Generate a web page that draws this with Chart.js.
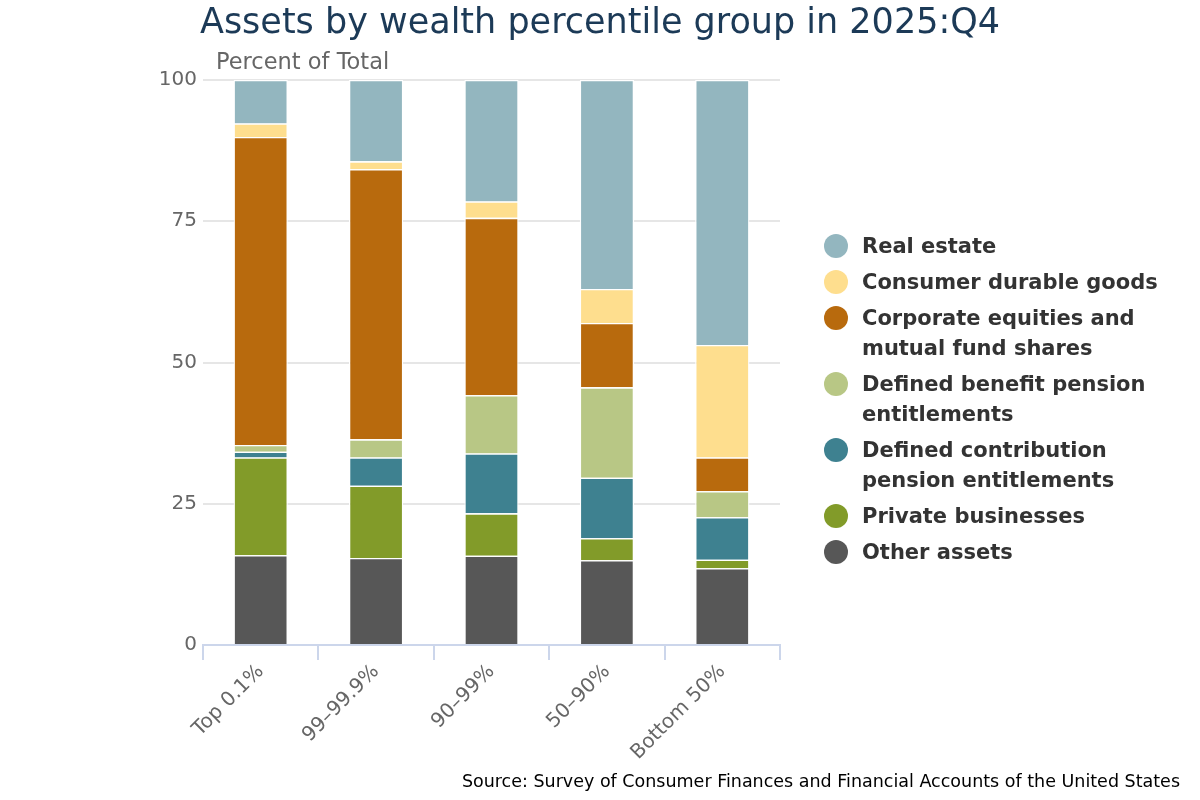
<!DOCTYPE html>
<html>
<head>
<meta charset="utf-8">
<script src="https://cdn.jsdelivr.net/npm/chart.js@4"></script>
<style>
  html, body { margin: 0; padding: 0; background: #fff; }
  #wrap { position: relative; width: 1200px; height: 800px; font-family: 'DejaVu Sans', sans-serif; }
  #title { position: absolute; left: 0; width: 1200px; top: 1px; text-align: center; font-size: 35px; color: #1c3a57; }
  #ylab { position: absolute; left: 216px; top: 48px; font-size: 22.5px; color: #666; }
  #source { position: absolute; right: 20px; top: 771px; font-size: 17.5px; color: #000; }
  #legend { position: absolute; left: 824px; top: 231px; }
  .item { display: flex; align-items: flex-start; margin-bottom: 6px; font-weight: bold; font-size: 21px; line-height: 30px; color: #333; }
  .dot { width: 24px; height: 24px; border-radius: 50%; margin: 3px 14px 0 0; flex: none; }
  canvas { position: absolute; left: 0; top: 0; }
</style>
</head>
<body>
<div id="wrap">
  <canvas id="chart" width="1200" height="800"></canvas>
  <div id="title">Assets by wealth percentile group in 2025:Q4</div>
  <div id="ylab">Percent of Total</div>
  <div id="legend"></div>
  <div id="source">Source: Survey of Consumer Finances and Financial Accounts of the United States</div>
</div>
<script>
// ─── DATA ────────────────────────────────────────────────────────────────────
const groups = ['Top 0.1%', '99–99.9%', '90–99%', '50–90%', 'Bottom 50%'];

const otherAssets     = [15.9, 15.4, 15.8, 15.0, 13.6];
const privateBiz      = [17.3, 12.8,  7.5,  3.9,  1.5];
const definedContrib  = [ 1.0,  5.0, 10.6, 10.7,  7.5];
const definedBenefit  = [ 1.2,  3.2, 10.3, 16.0,  4.6];
const equities        = [54.5, 47.8, 31.4, 11.4,  6.0];
const durableGoods    = [ 2.4,  1.4,  2.9,  6.0, 19.9];
const realEstate      = [ 7.7, 14.4, 21.5, 37.0, 46.9];

const yTicks = [0, 25, 50, 75, 100];

// legend order top to bottom; label lines as shown
const series = [
  { label: ['Real estate'], data: realEstate, color: '#93b6bf' },
  { label: ['Consumer durable goods'], data: durableGoods, color: '#fede8e' },
  { label: ['Corporate equities and', 'mutual fund shares'], data: equities, color: '#b86a0d' },
  { label: ['Defined benefit pension', 'entitlements'], data: definedBenefit, color: '#b8c785' },
  { label: ['Defined contribution', 'pension entitlements'], data: definedContrib, color: '#3e8190' },
  { label: ['Private businesses'], data: privateBiz, color: '#829b29' },
  { label: ['Other assets'], data: otherAssets, color: '#575757' },
];

// ─── LEGEND ──────────────────────────────────────────────────────────────────
const $ = id => document.getElementById(id);
$('legend').innerHTML = series.map(s =>
  `<div class="item"><span class="dot" style="background:${s.color}"></span><span>${s.label.join('<br>')}</span></div>`
).join('');

// ─── CHART ───────────────────────────────────────────────────────────────────
const datasets = series.slice().reverse().map(s => ({
  label: s.label.join(' '),
  data: s.data,
  backgroundColor: s.color,
  borderColor: '#ffffff',
  borderWidth: 1.3,
  barPercentage: 0.47,
  categoryPercentage: 1.0,
}));

new Chart($('chart').getContext('2d'), {
  type: 'bar',
  data: { labels: groups, datasets },
  options: {
    responsive: false,
    animation: false,
    layout: { padding: { top: 80, right: 420, bottom: 0, left: 0 } },
    plugins: { legend: { display: false }, tooltip: { enabled: false } },
    scales: {
      x: {
        stacked: true,
        afterFit: s => { s.height = 155; },
        border: { display: true, color: '#ccd6eb', width: 2 },
        grid: { display: true, drawOnChartArea: false, drawTicks: true, tickLength: 15, color: '#ccd6eb', lineWidth: 2, offset: true },
        ticks: { color: '#666', font: { family: "'DejaVu Sans', sans-serif", size: 20 }, maxRotation: 45, minRotation: 45, padding: 0 },
      },
      y: {
        stacked: true,
        min: 0, max: 100,
        afterFit: s => { s.width = 203; },
        afterBuildTicks: s => { s.ticks = yTicks.map(v => ({ value: v })); },
        border: { display: false },
        grid: { color: '#e6e6e6', lineWidth: 2, drawTicks: false },
        ticks: { color: '#666', font: { family: "'DejaVu Sans', sans-serif", size: 20 }, padding: 6 },
      },
    },
  },
});
</script>
</body>
</html>
